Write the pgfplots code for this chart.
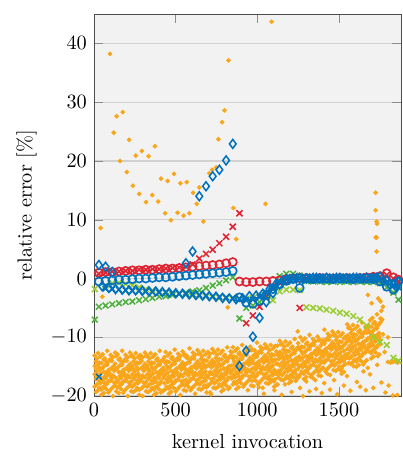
\documentclass[border=0pt]{standalone}
\usepackage{pgfplots}
\pgfplotsset{compat=1.18}
\usepackage{pgfplotstable}
\definecolor{cOrange}{RGB}{250,166,26}
\definecolor{cBlue}{RGB}{0,114,189}
\definecolor{cRed}{RGB}{222,35,50}
\definecolor{cGreen}{RGB}{77,175,60}
\definecolor{cLime}{RGB}{154,205,50}

\pgfplotstableread{
x a b c d
4 -18.4 -16.3 -14.9 -13.1
11 -17.1 -15.4 -19.3 -14.1
18 -15.8 -18.0 -13.6 -16.8
25 -19.0 -14.6 -16.5 -12.7
32 -14.3 -17.4 -15.1 -18.6
39 -16.2 -13.3 -17.8 -15.5
46 -18.9 -16.9 -14.4 -19.8
53 -15.2 -18.5 -12.9 -17.2
60 -17.6 -15.9 -19.5 -13.8
67 -13.6 -16.6 -18.2 -14.8
74 -16.9 -14.1 -18.8 -16.0
81 -14.7 -17.9 -12.3 -16.4
88 -19.4 -15.6 -14.2 -17.5
95 -15.5 -19.1 -13.9 -16.1
102 -17.4 -13.7 -16.7 -13.0
109 -14.0 -17.0 -18.7 -15.3
116 -16.5 -15.0 -20.0 -13.4
123 -15.0 -18.3 -15.7 -17.7
130 -18.2 -12.6 -16.8 -14.5
137 -15.4 -17.6 -13.2 -19.2
144 -15.2 -18.5 -12.9 -17.2
151 -17.6 -15.9 -19.5 -13.8
158 -13.6 -16.6 -18.2 -14.8
165 -16.9 -14.1 -18.8 -16.0
172 -14.7 -17.9 -12.3 -16.4
179 -19.4 -15.6 -14.2 -17.5
186 -15.5 -19.1 -13.9 -16.1
193 -17.4 -13.7 -16.7 -13.0
200 -14.0 -17.0 -18.7 -15.3
207 -16.5 -15.0 -20.0 -13.4
214 -15.0 -18.3 -15.7 -17.7
221 -18.2 -12.6 -16.8 -14.5
228 -15.4 -17.6 -13.2 -19.2
235 -18.4 -16.3 -14.9 -13.1
242 -17.1 -15.4 -19.3 -14.1
249 -15.8 -18.0 -13.6 -16.8
256 -19.0 -14.6 -16.5 -12.7
263 -14.3 -17.4 -15.1 -18.6
270 -16.2 -13.3 -17.8 -15.5
277 -18.9 -16.9 -14.4 -19.8
284 -17.4 -13.7 -16.7 -13.0
291 -14.0 -17.0 -18.7 -15.3
298 -16.5 -15.0 -20.0 -13.4
305 -15.0 -18.3 -15.7 -17.7
312 -18.2 -12.6 -16.8 -14.5
319 -15.4 -17.6 -13.2 -19.2
326 -18.4 -16.3 -14.9 -13.1
333 -17.1 -15.4 -19.3 -14.1
340 -15.8 -18.0 -13.6 -16.8
347 -19.0 -14.6 -16.5 -12.7
354 -14.3 -17.4 -15.1 -18.6
361 -16.2 -13.3 -17.8 -15.5
368 -18.9 -16.9 -14.4 -19.8
375 -15.2 -18.5 -12.9 -17.2
382 -17.6 -15.9 -19.5 -13.8
389 -13.6 -16.6 -18.2 -14.8
396 -16.9 -14.1 -18.8 -16.0
403 -14.7 -17.9 -12.3 -16.4
410 -19.4 -15.6 -14.2 -17.5
417 -15.5 -19.1 -13.9 -16.1
424 -16.9 -15.2 -19.1 -13.9
431 -15.6 -17.8 -13.4 -16.6
438 -18.8 -14.4 -16.3 -12.5
445 -14.1 -17.2 -14.9 -18.4
452 -16.0 -13.1 -17.6 -15.3
459 -18.7 -16.7 -14.2 -19.6
466 -15.0 -18.3 -12.7 -17.0
473 -17.4 -15.7 -19.3 -13.6
480 -13.4 -16.4 -18.0 -14.6
487 -16.7 -13.9 -18.6 -15.8
494 -14.5 -17.7 -12.1 -16.2
501 -19.2 -15.4 -14.0 -17.3
508 -15.3 -18.9 -13.7 -15.9
515 -17.2 -13.5 -16.5 -12.8
522 -13.8 -16.8 -18.5 -15.1
529 -16.3 -14.8 -19.8 -13.2
536 -14.8 -18.1 -15.5 -17.5
543 -18.0 -12.4 -16.6 -14.3
550 -15.2 -17.4 -13.0 -19.0
557 -18.2 -16.1 -14.7 -12.9
564 -17.2 -15.5 -19.1 -13.4
571 -13.2 -16.2 -17.8 -14.4
578 -16.5 -13.7 -18.4 -15.6
585 -14.3 -17.5 -11.9 -16.0
592 -19.0 -15.2 -13.8 -17.1
599 -15.1 -18.7 -13.5 -15.7
606 -17.0 -13.3 -16.3 -12.6
613 -13.6 -16.6 -18.3 -14.9
620 -16.1 -14.6 -19.6 -13.0
627 -14.6 -17.9 -15.3 -17.3
634 -17.8 -12.2 -16.4 -14.1
641 -15.0 -17.2 -12.8 -18.8
648 -18.0 -15.9 -14.5 -12.7
655 -16.7 -15.0 -18.9 -13.7
662 -15.4 -17.6 -13.2 -16.4
669 -18.6 -14.2 -16.1 -12.3
676 -13.9 -17.0 -14.7 -18.2
683 -15.8 -12.9 -17.4 -15.1
690 -18.5 -16.5 -14.0 -19.4
697 -14.8 -18.1 -12.5 -16.8
704 -13.4 -16.4 -18.1 -14.7
711 -15.9 -14.4 -19.4 -12.8
718 -14.4 -17.7 -15.1 -17.1
725 -17.6 -12.0 -16.2 -13.9
732 -14.8 -17.0 -12.6 -18.6
739 -17.8 -15.7 -14.3 -12.5
746 -16.5 -14.8 -18.7 -13.5
753 -15.2 -17.4 -13.0 -16.2
760 -18.4 -14.0 -15.9 -12.1
767 -13.7 -16.8 -14.5 -18.0
774 -15.6 -12.7 -17.2 -14.9
781 -18.3 -16.3 -13.8 -19.2
788 -14.6 -17.9 -12.3 -16.6
795 -17.0 -15.3 -18.9 -13.2
802 -13.0 -16.0 -17.6 -14.2
809 -16.3 -13.5 -18.2 -15.4
816 -14.1 -17.3 -11.7 -15.8
823 -18.8 -15.0 -13.6 -16.9
830 -14.9 -18.5 -13.3 -15.5
837 -16.8 -13.1 -16.1 -12.4
844 -14.8 -17.0 -12.6 -15.8
851 -18.0 -13.6 -15.5 -11.7
858 -13.3 -16.4 -14.1 -17.6
865 -15.2 -12.3 -16.8 -14.5
872 -17.9 -15.9 -13.4 -18.8
879 -14.2 -17.5 -11.9 -16.2
886 -16.6 -14.9 -18.5 -12.8
893 -12.6 -15.6 -17.2 -13.8
900 -15.9 -13.1 -17.8 -15.0
907 -13.7 -16.9 -11.3 -15.4
914 -18.4 -14.6 -13.2 -16.5
921 -14.5 -18.1 -12.9 -15.1
928 -16.4 -12.7 -15.7 -12.0
935 -13.0 -16.0 -17.7 -14.3
942 -15.5 -14.0 -19.0 -12.4
949 -14.0 -17.3 -14.7 -16.7
956 -17.2 -11.6 -15.8 -13.5
963 -14.4 -16.6 -12.2 -18.2
970 -17.4 -15.3 -13.9 -12.1
977 -16.1 -14.4 -18.3 -13.1
984 -12.2 -15.2 -16.8 -13.4
991 -15.5 -12.7 -17.4 -14.6
998 -13.3 -16.5 -10.9 -15.0
1005 -18.0 -14.2 -12.8 -16.1
1012 -14.1 -17.7 -12.5 -14.7
1019 -16.0 -12.3 -15.3 -11.6
1026 -12.6 -15.6 -17.3 -13.9
1033 -15.1 -13.6 -18.6 -12.0
1040 -13.6 -16.9 -14.3 -16.3
1047 -16.8 -11.2 -15.4 -13.1
1054 -14.0 -16.2 -11.8 -17.8
1061 -17.0 -14.9 -13.5 -11.7
1068 -15.7 -14.0 -17.9 -12.7
1075 -14.4 -16.6 -12.2 -15.4
1082 -17.6 -13.2 -15.1 -11.3
1089 -12.9 -16.0 -13.7 -17.2
1096 -14.8 -11.9 -16.4 -14.1
1103 -17.5 -15.5 -13.0 -18.4
1110 -13.8 -17.1 -11.5 -15.8
1117 -16.2 -14.5 -18.1 -12.4
1124 -14.5 -13.0 -18.0 -11.4
1131 -13.0 -16.3 -13.7 -15.7
1138 -16.2 -10.6 -14.8 -12.5
1145 -13.4 -15.6 -11.2 -17.2
1152 -16.4 -14.3 -12.9 -11.1
1159 -15.1 -13.4 -17.3 -12.1
1166 -13.8 -16.0 -11.6 -14.8
1173 -17.0 -12.6 -14.5 -10.7
1180 -12.3 -15.4 -13.1 -16.6
1187 -14.2 -11.3 -15.8 -13.5
1194 -16.9 -14.9 -12.4 -17.8
1201 -13.2 -16.5 -10.9 -15.2
1208 -15.6 -13.9 -17.5 -11.8
1215 -11.6 -14.6 -16.2 -12.8
1222 -14.9 -12.1 -16.8 -14.0
1229 -12.7 -15.9 -10.3 -14.4
1236 -17.4 -13.6 -12.2 -15.5
1243 -13.5 -17.1 -11.9 -14.1
1250 -15.4 -11.7 -14.7 -11.0
1257 -12.0 -15.0 -16.7 -13.3
1264 -16.3 -11.9 -13.8 -10.0
1271 -11.6 -14.7 -12.4 -15.9
1278 -13.5 -10.6 -15.1 -12.8
1285 -16.2 -14.2 -11.7 -17.1
1292 -12.5 -15.8 -10.2 -14.5
1299 -14.9 -13.2 -16.8 -11.1
1306 -10.9 -13.9 -15.5 -12.1
1313 -14.2 -11.4 -16.1 -13.3
1320 -12.0 -15.2 -9.6 -13.7
1327 -16.7 -12.9 -11.5 -14.8
1334 -12.8 -16.4 -11.2 -13.4
1341 -14.7 -11.0 -14.0 -10.3
1348 -11.3 -14.3 -16.0 -12.6
1355 -13.8 -12.3 -17.3 -10.7
1362 -12.3 -15.6 -13.0 -15.0
1369 -15.5 -9.9 -14.1 -11.8
1376 -12.7 -14.9 -10.5 -16.5
1383 -15.7 -13.6 -12.2 -10.4
1390 -14.4 -12.7 -16.6 -11.4
1397 -13.1 -15.3 -10.9 -14.1
1404 -13.3 -10.5 -15.2 -12.4
1411 -11.1 -14.3 -8.7 -12.8
1418 -15.8 -12.0 -10.6 -13.9
1425 -11.9 -15.5 -10.3 -12.5
1432 -13.8 -10.1 -13.1 -9.4
1439 -10.4 -13.4 -15.1 -11.7
1446 -12.9 -11.4 -16.4 -9.8
1453 -11.4 -14.7 -12.1 -14.1
1460 -14.6 -9.0 -13.2 -10.9
1467 -11.8 -14.0 -9.6 -15.6
1474 -14.8 -12.7 -11.3 -9.5
1481 -13.5 -11.8 -15.7 -10.5
1488 -12.2 -14.4 -10.0 -13.2
1495 -15.4 -11.0 -12.9 -9.1
1502 -10.7 -13.8 -11.5 -15.0
1509 -12.6 -9.7 -14.2 -11.9
1516 -15.3 -13.3 -10.8 -16.2
1523 -11.6 -14.9 -9.3 -13.6
1530 -14.0 -12.3 -15.9 -10.2
1537 -10.0 -13.0 -14.6 -11.2
1544 -10.2 -13.5 -10.9 -12.9
1551 -13.4 -7.8 -12.0 -9.7
1558 -10.6 -12.8 -8.4 -14.4
1565 -13.6 -11.5 -10.1 -8.3
1572 -12.3 -10.6 -14.5 -9.3
1579 -11.0 -13.2 -8.8 -12.0
1586 -14.2 -9.8 -11.7 -7.9
1593 -9.5 -12.6 -10.3 -13.8
1600 -11.4 -8.5 -13.0 -10.7
1607 -14.1 -12.1 -9.6 -15.0
1614 -10.4 -13.7 -8.1 -12.4
1621 -12.8 -11.1 -14.7 -9.0
1628 -8.8 -11.8 -13.4 -10.0
1635 -12.1 -9.3 -14.0 -11.2
1642 -9.9 -13.1 -7.5 -11.6
1649 -14.6 -10.8 -9.4 -12.7
1656 -10.7 -14.3 -9.1 -11.3
1663 -12.6 -8.9 -11.9 -8.2
1670 -9.2 -12.2 -13.9 -10.5
1677 -11.7 -10.2 -15.2 -8.6
1684 -8.1 -11.2 -8.9 -12.4
1691 -10.0 -7.1 -11.6 -9.3
1698 -12.7 -10.7 -8.2 -13.6
1705 -9.0 -12.3 -6.7 -11.0
1712 -11.4 -9.7 -13.3 -7.6
1719 -7.4 -10.4 -12.0 -8.6
1726 -10.7 -7.9 -12.6 -9.8
1733 -8.5 -11.7 -6.1 -10.2
1740 -13.2 -9.4 -8.0 -11.3
1747 -9.3 -12.9 -7.7 -9.9
1754 -11.2 -7.5 -10.5 -6.8
}\cloud

\pgfplotstableread{
x y
98 38.2
824 37.1
139 27.6
176 28.3
121 24.8
215 23.6
256 20.9
293 21.7
334 20.8
373 22.5
160 20.0
201 18.1
238 15.8
277 14.4
318 13.0
357 14.2
393 13.1
410 17.0
451 16.6
490 17.8
529 16.2
568 16.4
607 14.6
645 15.5
629 12.7
707 17.9
723 18.5
748 18.9
762 23.7
785 26.6
799 28.6
854 12.0
436 11.1
471 9.9
512 11.2
549 10.7
584 11.1
670 9.7
871 6.7
819 -4.9
41 8.6
51 -3.1
717 -19.7
1088 43.7
1051 12.7
1725 14.6
1725 11.6
1731 9.7
1734 9.3
1725 7.0
1731 7.0
1731 4.6
1248 -9.0
1010 -18.5
1040 -19.6
1075 -17.2
1105 -19.0
1130 -16.8
1150 -19.8
1170 -18.0
1195 -17.0
1210 -19.3
1240 -16.4
1262 -18.6
1280 -20.0
1300 -17.5
1320 -19.2
1340 -16.9
1360 -18.8
1375 -15.9
1395 -19.5
1410 -17.8
1430 -16.2
1445 -18.9
1470 -17.3
1490 -19.7
1510 -15.6
1530 -18.2
1550 -16.6
1570 -19.1
1590 -14.9
1610 -17.6
1630 -18.4
1650 -15.8
1665 -19.0
1690 -16.3
1710 -18.6
1735 -14.7
1760 -17.7
1785 -19.4
1805 -18.2
1830 -19.9
1858 -19.8
1800 -14.2
1815 -14.3
1830 -14.2
1845 -14.1
1860 -14.3
1801 -10.0
1780 -12.5
1770 -9.5
1765 -7.0
1760 -5.5
1770 -4.8
1755 -3.9
1678 -2.8
1700 -4.2
1740 -3.4
}\outliers

\pgfplotstableread{
x rc rx bc bd bx gx lx
30 1.0 0.8 -0.5 2.3 -16.7 -4.8 nan
71 1.1 1.0 -0.4 2.0 -1.7 -4.6 -1.2
112 1.1 1.2 -0.3 1.1 -1.8 -4.4 -0.8
153 1.2 1.2 -0.2 nan -1.9 -4.2 -0.7
194 1.3 1.3 -0.2 nan -2.0 -4.0 -0.9
235 1.4 1.3 -0.1 nan -2.1 -3.9 -1.2
276 1.4 1.5 0.0 nan -2.1 -3.7 -1.5
317 1.5 1.5 0.0 nan -2.2 -3.5 -1.8
358 1.5 1.6 0.1 nan -2.3 -3.3 -2.0
399 1.6 1.6 0.2 nan -2.4 -3.1 -2.2
440 1.7 1.7 0.2 nan -2.4 -3.0 -2.3
481 1.7 1.8 0.3 nan -2.5 -2.8 -2.5
522 1.8 1.9 0.4 nan -2.6 -2.6 -2.6
563 1.9 2.0 0.5 2.6 -2.6 -2.4 -2.7
604 2.0 2.4 0.6 4.6 -2.7 -2.2 -2.9
645 2.1 3.4 0.7 14.0 -2.8 -2.0 -3.0
686 2.2 4.2 0.8 15.7 -2.9 -1.6 -3.1
727 2.3 4.9 0.9 17.4 -3.0 -1.2 -3.2
768 2.4 6.0 1.0 18.5 -3.1 -0.8 -3.3
809 2.6 7.1 1.1 20.1 -3.2 -0.3 -3.4
850 2.8 8.8 1.3 22.9 -3.3 0.2 -3.5
891 -0.5 11.1 -3.2 -14.9 -3.5 -6.8 -3.6
932 -0.6 -7.6 -4.1 -12.3 -3.7 -5.0 -3.5
973 -0.6 -6.3 -4.3 -9.9 -3.6 -4.6 -3.3
1014 -0.5 -4.8 -3.8 -6.7 -3.2 -4.0 -3.0
1055 -0.5 -3.1 -2.8 -4.0 -2.4 -3.0 -3.4
1096 -0.4 -1.5 -1.8 -2.5 -1.4 -1.8 -3.7
1137 -0.3 -0.5 -1.0 -1.0 -0.6 0.4 -2.2
1178 -0.1 0.0 -0.4 -0.2 -0.2 0.8 -1.9
1219 0.0 0.1 -0.1 0.0 0.0 0.8 -1.9
1260 0.1 -5.0 -1.6 0.1 0.0 0.5 -2.0
1301 0.1 0.1 0.0 0.0 -0.1 -0.4 -4.9
1342 0.0 0.0 -0.1 0.1 0.0 -0.5 -5.0
1383 0.1 0.2 0.0 0.0 0.0 -0.5 -5.1
1424 0.1 0.1 0.0 0.1 0.1 -0.6 -5.3
1465 0.0 0.1 -0.1 0.0 0.0 -0.5 -5.5
1506 0.1 0.2 0.0 0.1 0.0 -0.6 -5.8
1547 0.1 0.1 0.0 0.0 0.1 -0.5 -6.0
1588 0.0 0.0 -0.1 0.1 0.0 -0.6 -6.4
1629 0.1 0.2 0.0 0.0 0.0 -0.5 -7.0
1670 0.2 0.1 0.0 0.1 0.0 -0.6 -8.0
1711 0.3 0.2 -0.1 0.1 0.0 -0.6 -10.0
1752 0.4 0.3 -0.5 0.3 -0.2 -0.8 -10.8
1793 0.9 0.6 -1.4 -0.3 -0.6 -1.5 -11.3
1834 0.2 0.0 -1.9 -0.9 -1.2 -2.4 -13.5
1865 -0.2 -0.5 -0.5 -0.6 -1.5 -3.6 -14.0
}\marks

\pgfplotstableread{
x y
50 -1.3
91 -1.6
132 -1.8
173 -1.9
214 -2.0
255 -2.0
296 -2.1
337 -2.2
378 -2.2
419 -2.3
460 -2.4
501 -2.5
542 -2.6
583 -2.7
624 -2.8
665 -2.9
706 -3.0
747 -3.1
788 -3.3
829 -3.4
870 -3.5
911 -3.4
952 -3.0
993 -2.9
1034 -2.6
1075 -1.8
1116 -0.9
1157 -0.3
1198 -0.1
1239 0.0
1280 -0.1
1321 0.0
1362 0.1
1403 0.0
1444 0.0
1485 0.1
1526 0.0
1567 0.0
1608 0.1
1649 0.0
1690 0.0
1731 0.1
1772 -0.4
1813 -1.0
1854 -1.5
}\bdb

\begin{document}
\begin{tikzpicture}
\begin{axis}[
  scale only axis,
  width=151.2pt, height=188.2pt,
  xmin=0, xmax=1880, ymin=-20, ymax=45,
  xtick={0,500,1000,1500},
  ytick={-20,-10,0,10,20,30,40},
  /pgf/number format/1000 sep={},
  axis background/.style={fill=black!5},
  axis line style={black!70},
  tick style={black!45},
  ymajorgrids,
  major grid style={black!18, line width=0.6pt},
  xlabel={kernel invocation},
  xlabel style={yshift=-2.2pt},
  ylabel={relative error [\%]},
  every axis plot/.append style={only marks},
]
\addplot[cOrange, mark=*, mark size=0.95pt, mark options={draw=none, fill=cOrange}] table[x=x, y=a] {\cloud};
\addplot[cOrange, mark=*, mark size=0.95pt, mark options={draw=none, fill=cOrange}] table[x=x, y=b] {\cloud};
\addplot[cOrange, mark=*, mark size=0.95pt, mark options={draw=none, fill=cOrange}] table[x=x, y=c] {\cloud};
\addplot[cOrange, mark=*, mark size=0.95pt, mark options={draw=none, fill=cOrange}] table[x=x, y=d] {\cloud};
\addplot[cOrange, mark=*, mark size=0.95pt, mark options={draw=none, fill=cOrange}] table[x=x, y=y] {\outliers};
\addplot[cLime, mark=x, mark size=2pt, mark options={line width=0.75pt}] table[x=x, y=lx] {\marks};
\addplot[cLime, mark=x, mark size=2pt, mark options={line width=0.75pt}] coordinates {(5,-1.8)};
\addplot[cGreen, mark=x, mark size=2pt, mark options={line width=0.75pt}] table[x=x, y=gx] {\marks};
\addplot[cGreen, mark=x, mark size=2pt, mark options={line width=0.75pt}] coordinates {(5,-7.0)};
\addplot[cRed, mark=x, mark size=2.1pt, mark options={line width=0.75pt}] table[x=x, y=rx] {\marks};
\addplot[cRed, mark=o, mark size=2.0pt, mark options={line width=0.8pt}] table[x=x, y=rc] {\marks};
\addplot[cBlue, mark=x, mark size=2pt, mark options={line width=0.75pt}] table[x=x, y=bx] {\marks};
\addplot[cBlue, mark=diamond, mark size=2.2pt, mark options={line width=0.75pt}] table[x=x, y=y] {\bdb};
\addplot[cBlue, mark=diamond, mark size=2.2pt, mark options={line width=0.75pt}] table[x=x, y=bd] {\marks};
\addplot[cBlue, mark=o, mark size=2.0pt, mark options={line width=0.8pt}] table[x=x, y=bc] {\marks};
\end{axis}
\path ([xshift=-46.3pt,yshift=6.9pt]current axis.north west) rectangle ([xshift=1pt,yshift=-30.5pt]current axis.south east);
\end{tikzpicture}
\end{document}
